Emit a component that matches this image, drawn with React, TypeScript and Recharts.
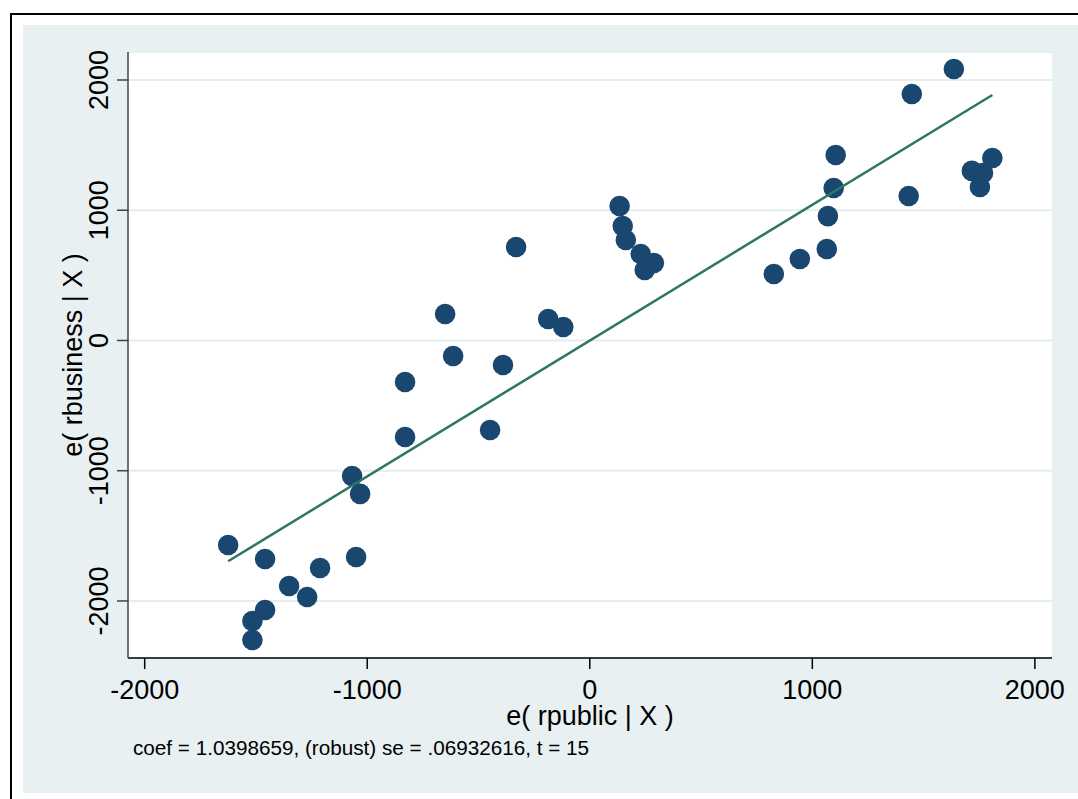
import { ScatterChart, Scatter, XAxis, YAxis, CartesianGrid } from "recharts";

// residuals
const publicResid = [
  -1625, -1459, -1516, -1516, -1459, -1351, -1270, -1212, -1068, -1032, -1050,
  -830, -830, -650, -614, -448, -390, -331, -187, -119,
  134, 148, 162, 229, 247, 288,
  827, 944, 1065, 1070, 1096, 1105, 1433, 1447, 1636, 1717, 1767, 1753, 1809,
];
const businessResid = [
  -1570, -1678, -2154, -2300, -2069, -1885, -1970, -1747, -1040, -1178, -1662,
  -319, -741, 203, -119, -687, -188, 718, 165, 104,
  1032, 879, 771, 664, 541, 595,
  511, 626, 702, 955, 1171, 1424, 1109, 1892, 2084, 1302, 1286, 1178, 1401,
];

// fitted line end points
const fitX = [-1625, 1809];
const fitY = [-1695, 1885];

const xTicks = [-2000, -1000, 0, 1000, 2000];
const yTicks = [-2000, -1000, 0, 1000, 2000];

const xTitle = "e( rpublic | X )";
const yTitle = "e( rbusiness | X )";
const note = "coef = 1.0398659, (robust) se = .06932616, t = 15";

const points = publicResid.map((x, i) => ({ x, y: businessResid[i] }));
const fitLine = fitX.map((x, i) => ({ x, y: fitY[i] }));

const FONT = "'Liberation Sans', Arial, Helvetica, sans-serif";
const BG = "#E8F0F2";
const MARKER = "#1A476F";
const LINE = "#2E7763";

const XTick = (props: any) => {
  const { x, y, payload } = props;
  return (
    <text x={x} y={y + 28} textAnchor="middle" fontFamily={FONT} fontSize={27} fill="#000">
      {payload.value}
    </text>
  );
};

const YTick = (props: any) => {
  const { y, payload } = props;
  return (
    <text
      transform={`translate(84.5, ${y}) rotate(-90)`}
      textAnchor="middle"
      fontFamily={FONT}
      fontSize={27}
      fill="#000"
    >
      {payload.value}
    </text>
  );
};

const XLabel = (props: any) => {
  const vb = props.viewBox;
  return (
    <g>
      <text
        x={vb.x + vb.width / 2}
        y={vb.y + 67}
        textAnchor="middle"
        fontFamily={FONT}
        fontSize={27}
        fill="#000"
      >
        {xTitle}
      </text>
      <text x={110} y={730} fontFamily={FONT} fontSize={20.7} fill="#000">
        {note}
      </text>
    </g>
  );
};

const YLabel = (props: any) => {
  const vb = props.viewBox;
  return (
    <text
      transform={`translate(59, ${vb.y + vb.height / 2}) rotate(-90)`}
      textAnchor="middle"
      fontFamily={FONT}
      fontSize={27}
      fill="#000"
    >
      {yTitle}
    </text>
  );
};

const Dot = (props: any) => <circle cx={props.cx} cy={props.cy} r={10.3} fill={MARKER} />;

export default function App() {
  return (
    <div style={{ position: "absolute", left: 0, top: 0, width: 1078, height: 799, background: "#fff", overflow: "hidden" }}>
      <div
        style={{
          position: "absolute",
          left: 10,
          top: 13,
          width: 1080,
          height: 800,
          borderLeft: "2px solid #000",
          borderTop: "2px solid #000",
        }}
      />
      <div style={{ position: "absolute", left: 23, top: 25 }}>
        <ScatterChart
          width={1055}
          height={768}
          margin={{ top: 27, right: 26, left: 0, bottom: 0 }}
          style={{ background: BG }}
        >
          <CartesianGrid vertical={false} fill="#fff" stroke="#E4EDF0" strokeWidth={2} />
          <XAxis
            type="number"
            dataKey="x"
            domain={[-2075, 2077]}
            ticks={xTicks}
            allowDataOverflow
            height={135}
            tickSize={11}
            axisLine={{ stroke: "#000", strokeWidth: 1.5 }}
            tickLine={{ stroke: "#000", strokeWidth: 1.5 }}
            tick={<XTick />}
            label={{ content: <XLabel /> }}
          />
          <YAxis
            type="number"
            dataKey="y"
            domain={[-2438, 2215]}
            ticks={yTicks}
            allowDataOverflow
            width={105}
            tickSize={11}
            axisLine={{ stroke: "#444", strokeWidth: 1.5 }}
            tickLine={{ stroke: "#444", strokeWidth: 1.5 }}
            tick={<YTick />}
            label={{ content: <YLabel /> }}
          />
          <Scatter data={points} shape={<Dot />} isAnimationActive={false} />
          <Scatter
            data={fitLine}
            line={{ stroke: LINE, strokeWidth: 2.5 }}
            shape={() => <g />}
            isAnimationActive={false}
          />
        </ScatterChart>
      </div>
    </div>
  );
}
